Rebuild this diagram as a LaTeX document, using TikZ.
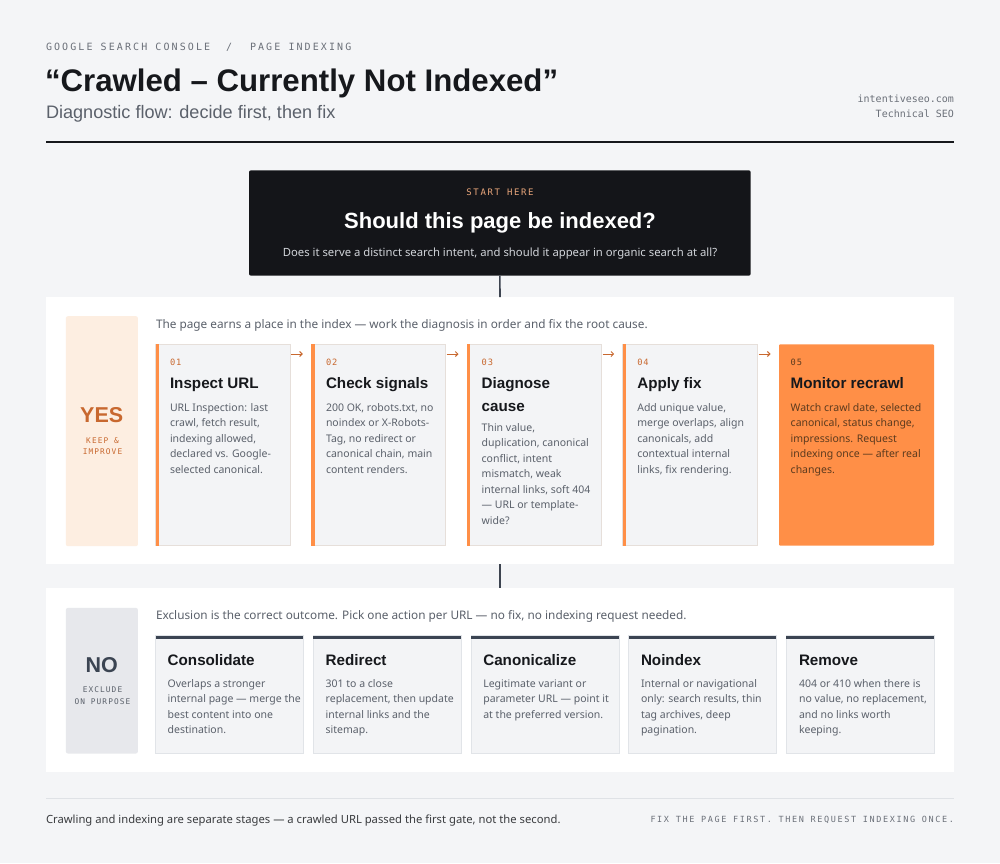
\documentclass[tikz,border=0pt]{standalone}
\usepackage{fontspec}
\setmainfont{Noto Sans}
\newfontfamily\headf{Liberation Sans}
\newfontfamily\monof{DejaVu Sans Mono}
\usetikzlibrary{arrows.meta,calc}
\definecolor{bg}{HTML}{F4F5F7}
\definecolor{ink}{HTML}{16181C}
\definecolor{gray1}{HTML}{5B616B}
\definecolor{gray2}{HTML}{6B7079}
\definecolor{accent}{HTML}{C8682F}
\definecolor{orange}{HTML}{FF8F47}
\definecolor{peach}{HTML}{FDEEE1}
\definecolor{cardfill}{HTML}{F3F4F6}
\definecolor{ycardborder}{HTML}{E6DFDA}
\definecolor{ncardborder}{HTML}{E1E4E8}
\definecolor{slate}{HTML}{3B4452}
\definecolor{nobox}{HTML}{E7E8EC}
\definecolor{darkbox}{HTML}{141519}
\definecolor{starttxt}{HTML}{E8A57A}
\definecolor{qsub}{HTML}{D2D5DA}
\definecolor{brown}{HTML}{5C3A1E}
\definecolor{footline}{HTML}{DFE2E6}
\definecolor{connc}{HTML}{3D4450}
\newcommand\cardlines[5][]{%
  \foreach \t [count=\i from 0] in {#5}
    \node[body,#1] (#2\i) at (#3, #4+\i*15.5) {\t};}
\begin{document}
\begin{tikzpicture}[x=1pt,y=-1pt,
  txt/.style={inner sep=0pt, outer sep=0pt, anchor=base west},
  body/.style={txt, font=\fontsize{10.5}{12}\selectfont, text=gray1},
  ctitle/.style={txt, font=\headf\bfseries\fontsize{15.2}{18}\selectfont, text=ink},
  num/.style={txt, font=\monof\fontsize{8.7}{10}\selectfont\addfontfeatures{LetterSpace=10}, text=accent},
  intro/.style={txt, font=\fontsize{11.8}{14}\selectfont, text=gray1},
  lab/.style={inner sep=0pt, outer sep=0pt, anchor=base, font=\monof\fontsize{7.8}{9}\selectfont\addfontfeatures{LetterSpace=14}},
  big/.style={inner sep=0pt, outer sep=0pt, anchor=base, font=\headf\bfseries\fontsize{21.5}{24}\selectfont},
  panel/.style={fill=white, inner sep=0pt, outer sep=0pt, anchor=north west, minimum width=908},
  ycard/.style={draw=ycardborder, fill=cardfill, line width=0.8pt, inner sep=0pt, outer sep=0pt, anchor=north west, minimum height=201.4},
  ncard/.style={draw=ncardborder, fill=cardfill, line width=0.8pt, inner sep=0pt, outer sep=0pt, anchor=north west, minimum height=118},
  conn/.style={draw=connc, line width=1.6pt},
  arr/.style={draw=accent, line width=1pt, -{Straight Barb[length=2.5pt,width=5pt]}},
]
\fill[bg] (0,0) rectangle (1000,863);
\useasboundingbox (0,0) rectangle (1000,863);

% header
\node[txt, font=\monof\fontsize{10}{12}\selectfont\addfontfeatures{LetterSpace=21}, text=gray2] (h1) at (46,50) {GOOGLE SEARCH CONSOLE};
\node[txt, font=\monof\fontsize{10}{12}\selectfont, text=gray2] (h2) at (226,50) {/};
\node[txt, font=\monof\fontsize{10}{12}\selectfont\addfontfeatures{LetterSpace=21}, text=gray2] (h3) at (250,50) {PAGE INDEXING};
\node[txt, font=\headf\bfseries\fontsize{31.2}{36}\selectfont, text=ink] (ttl) at (45,91) {“Crawled – Currently Not Indexed”};
\node[txt, font=\headf\fontsize{18.1}{22}\selectfont, text=gray1] (sub) at (46,118) {Diagnostic flow: decide first, then fix};
\node[txt, anchor=base east, font=\monof\fontsize{10}{12}\selectfont, text=gray2] (r1) at (954,102.5) {intentiveseo.com};
\node[txt, anchor=base east, font=\monof\fontsize{10}{12}\selectfont, text=gray2] (r2) at (954,117.5) {Technical SEO};
\coordinate (ruleL) at (46,142);
\coordinate (ruleR) at (954,142);
\draw[ink, line width=1.4pt] (ruleL) -- (ruleR);

% start box
\node[fill=darkbox, rounded corners=2pt, inner sep=0pt, outer sep=0pt, anchor=north west, minimum width=501.7, minimum height=105.4] (q) at (249,170.3) {};
\node[inner sep=0pt, anchor=base, font=\monof\fontsize{9}{11}\selectfont\addfontfeatures{LetterSpace=18}, text=starttxt] (qs) at (500,195) {START HERE};
\node[inner sep=0pt, anchor=base, font=\headf\bfseries\fontsize{22}{26}\selectfont, text=white] (qt) at (500,228) {Should this page be indexed?};
\node[inner sep=0pt, anchor=base, font=\fontsize{11.3}{13}\selectfont, text=qsub] (qd) at (500,256) {Does it serve a distinct search intent, and should it appear in organic search at all?};

% YES panel
\node[panel, minimum height=267] (yp) at (46,297) {};
\draw[conn] (q.south) -- (yp.north);
\node[fill=peach, rounded corners=2pt, inner sep=0pt, anchor=north west, minimum width=72, minimum height=230] (ylab) at (65.7,316) {};
\node[big, text=accent] (yes) at (101.7,422.7) {YES};
\node[lab, text=accent] (yk1) at (102.5,443.7) {KEEP \&};
\node[lab, text=accent] (yk2) at (102.5,454.7) {IMPROVE};
\node[intro] (yi) at (156,328) {The page earns a place in the index — work the diagnosis in order and fix the root cause.};

\node[ycard, minimum width=134.3] (y1) at (155.7,344.3) {};
\node[ycard, minimum width=134.4] (y2) at (311.3,344.3) {};
\node[ycard, minimum width=134.7] (y3) at (467,344.3) {};
\node[ycard, minimum width=135] (y4) at (622.7,344.3) {};
\node[fill=orange, rounded corners=1pt, inner sep=0pt, outer sep=0pt, anchor=north west, minimum width=155, minimum height=201.4] (y5) at (779,344.3) {};
\foreach \c in {y1,y2,y3,y4}
  \fill[orange] (\c.north west) rectangle ([xshift=3.3pt]\c.south west);
\draw[arr] ([xshift=1pt,yshift=-9.7pt]y1.north east) -- ([xshift=-8.5pt,yshift=-9.7pt]y2.north west);
\draw[arr] ([xshift=1pt,yshift=-9.7pt]y2.north east) -- ([xshift=-8.5pt,yshift=-9.7pt]y3.north west);
\draw[arr] ([xshift=1pt,yshift=-9.7pt]y3.north east) -- ([xshift=-8.5pt,yshift=-9.7pt]y4.north west);
\draw[arr] ([xshift=1pt,yshift=-9.7pt]y4.north east) -- ([xshift=-8.5pt,yshift=-9.7pt]y5.north west);

\node[num] (y1n) at (170,365) {01};
\node[ctitle] (y1t) at (170,388.5) {Inspect URL};
\cardlines{y1b}{170}{411}{{URL Inspection: last},{crawl, fetch result,},{indexing allowed,},{declared vs. Google-},{selected canonical.}}

\node[num] (y2n) at (326,365) {02};
\node[ctitle] (y2t) at (326,388.5) {Check signals};
\cardlines{y2b}{326}{411}{{200 OK, robots.txt, no},{noindex or X-Robots-},{Tag, no redirect or},{canonical chain, main},{content renders.}}

\node[num] (y3n) at (481.7,365) {03};
\node[ctitle] (y3t) at (481.7,388.5) {Diagnose};
\node[ctitle] (y3t2) at (481.7,411.5) {cause};
\cardlines{y3b}{481.7}{431}{{Thin value,},{duplication, canonical},{conflict, intent},{mismatch, weak},{internal links, soft 404},{— URL or template-},{wide?}}

\node[num] (y4n) at (637.3,365) {04};
\node[ctitle] (y4t) at (637.3,388.5) {Apply fix};
\cardlines{y4b}{637.3}{411}{{Add unique value,},{merge overlaps, align},{canonicals, add},{contextual internal},{links, fix rendering.}}

\node[num, text=brown] (y5n) at (790.7,365) {05};
\node[ctitle, text=ink] (y5t) at (790.7,388.5) {Monitor recrawl};
\cardlines[text=brown]{y5b}{790.7}{411}{{Watch crawl date, selected},{canonical, status change,},{impressions. Request},{indexing once — after real},{changes.}}

% NO panel
\node[panel, minimum height=184] (np) at (46,588) {};
\draw[conn] (yp.south) -- (np.north);
\node[fill=nobox, rounded corners=2pt, inner sep=0pt, anchor=north west, minimum width=72, minimum height=145.6] (nlab) at (65.7,607.7) {};
\node[big, text=slate] (no) at (101.7,672.7) {NO};
\node[lab, text=gray1] (nk1) at (102.5,692.7) {EXCLUDE};
\node[lab, text=gray1] (nk2) at (102.5,704.4) {ON PURPOSE};
\node[intro] (ni) at (156,619) {Exclusion is the correct outcome. Pick one action per URL — no fix, no indexing request needed.};

\node[ncard, minimum width=147.3] (n1) at (155.7,635.7) {};
\node[ncard, minimum width=148] (n2) at (313,635.7) {};
\node[ncard, minimum width=148] (n3) at (471,635.7) {};
\node[ncard, minimum width=147.5] (n4) at (628.7,635.7) {};
\node[ncard, minimum width=148] (n5) at (786,635.7) {};
\foreach \c in {n1,n2,n3,n4,n5}
  \fill[slate] (\c.north west) rectangle ([yshift=-3pt]\c.north east);

\node[ctitle] (n1t) at (167.7,665.5) {Consolidate};
\cardlines{n1b}{167.7}{687}{{Overlaps a stronger},{internal page — merge the},{best content into one},{destination.}}
\node[ctitle] (n2t) at (325.7,665.5) {Redirect};
\cardlines{n2b}{325.7}{687}{{301 to a close},{replacement, then update},{internal links and the},{sitemap.}}
\node[ctitle] (n3t) at (483.3,665.5) {Canonicalize};
\cardlines{n3b}{483.3}{687}{{Legitimate variant or},{parameter URL — point it},{at the preferred version.}}
\node[ctitle] (n4t) at (641,665.5) {Noindex};
\cardlines{n4b}{641}{687}{{Internal or navigational},{only: search results, thin},{tag archives, deep},{pagination.}}
\node[ctitle] (n5t) at (799,665.5) {Remove};
\cardlines{n5b}{799}{687}{{404 or 410 when there is},{no value, no replacement,},{and no links worth},{keeping.}}

% footer
\coordinate (fL) at (46,798.3);
\coordinate (fR) at (954,798.3);
\draw[footline, line width=1pt] (fL) -- (fR);
\node[txt, font=\fontsize{11.25}{13}\selectfont, text=ink!85] (ft) at (46,823) {Crawling and indexing are separate stages — a crawled URL passed the first gate, not the second.};
\node[txt, anchor=base east, font=\monof\fontsize{8.5}{10}\selectfont\addfontfeatures{LetterSpace=19}, text=gray2] (fr) at (954,822) {FIX THE PAGE FIRST. THEN REQUEST INDEXING ONCE.};
\end{tikzpicture}
\end{document}
